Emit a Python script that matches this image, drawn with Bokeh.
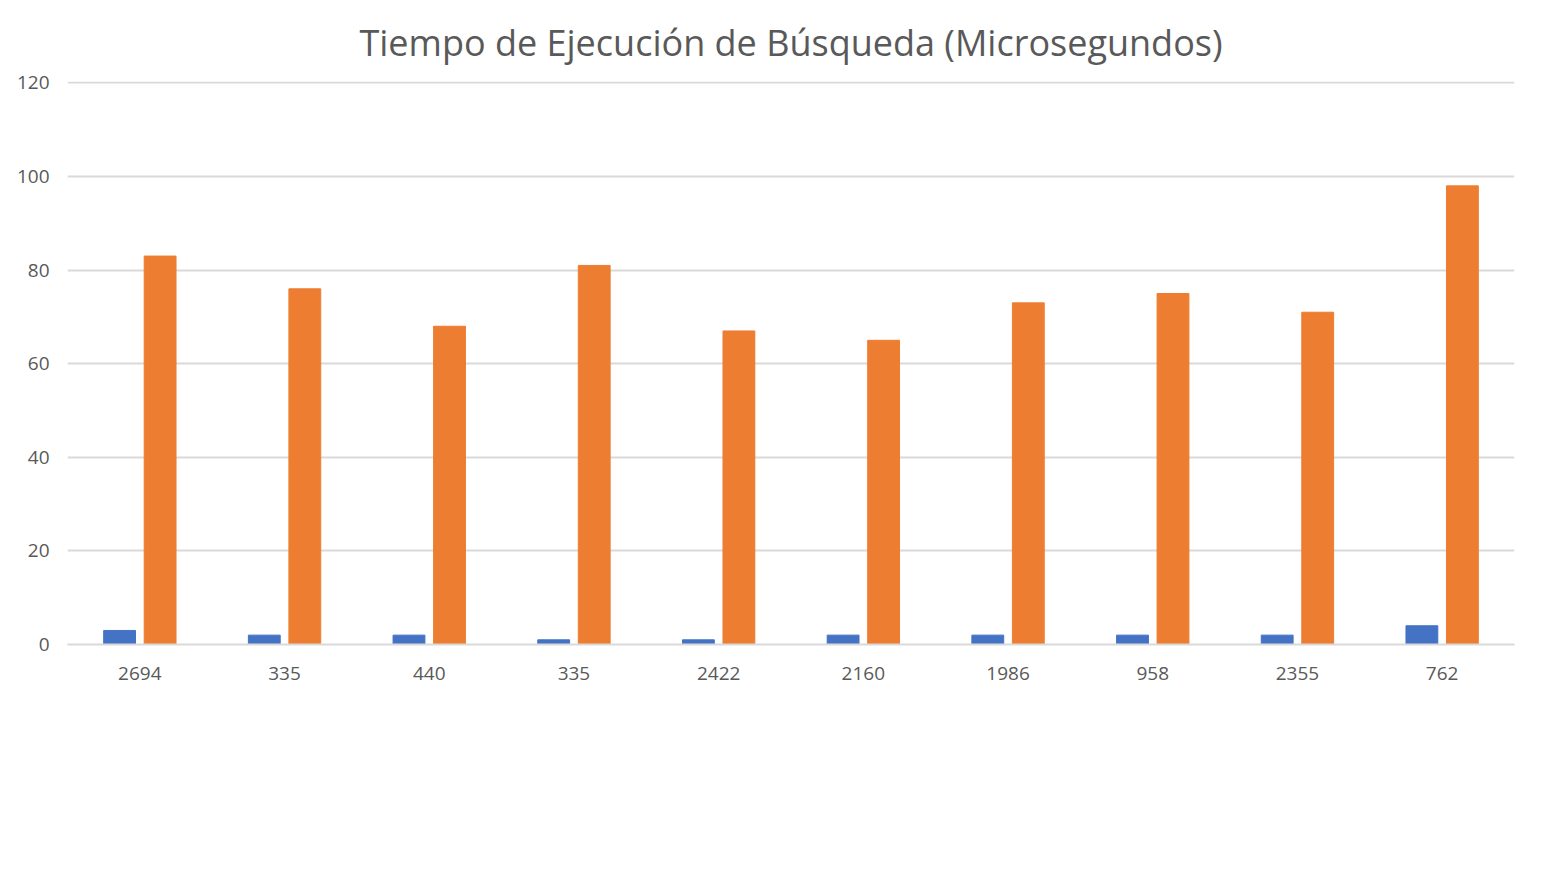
from bokeh.plotting import figure
from bokeh.models import Range1d, FixedTicker, Legend, LegendItem
from bokeh.embed import file_html
from bokeh.resources import INLINE

labels = ["2694", "335", "440", "335", "2422", "2160", "1986", "958", "2355", "762"]
avl = [3, 2, 2, 1, 1, 2, 2, 2, 2, 4]
b = [83, 76, 68, 81, 67, 65, 73, 75, 71, 98]

xs = [i + 0.5 for i in range(len(labels))]

p = figure(
    frame_width=1447, frame_height=563,
    x_range=Range1d(0, len(labels)), y_range=Range1d(0, 120.3),
    output_backend="svg", toolbar_location=None,
    min_border_left=67, min_border_right=20, min_border_top=32, min_border_bottom=0,
    outline_line_color=None, border_fill_color="white",
)
p.title.text = "Tiempo de Ejecución de Búsqueda (Microsegundos)"
p.title.align = "center"
p.title.text_font = "Open Sans"
p.title.text_font_size = "36px"
p.title.text_font_style = "normal"
p.title.text_color = "#595959"
p.title.standoff = 30

r1 = p.vbar(x=[x - 0.14 for x in xs], top=avl, width=0.22, color="#4472c4")
r2 = p.vbar(x=[x + 0.14 for x in xs], top=b, width=0.22, color="#ed7d31")

p.xaxis.ticker = FixedTicker(ticks=xs)
p.xaxis.major_label_overrides = {x: l for x, l in zip(xs, labels)}
p.yaxis.ticker = FixedTicker(ticks=[0, 20, 40, 60, 80, 100, 120])
for ax in (p.xaxis, p.yaxis):
    ax.major_tick_line_color = None
    ax.minor_tick_line_color = None
    ax.major_label_text_font = "Open Sans"
    ax.major_label_text_font_size = "19px"
    ax.major_label_text_color = "#595959"
p.xaxis.axis_line_color = "#d9d9d9"
p.xaxis.axis_line_width = 2
p.xaxis.major_label_standoff = 16
p.yaxis.axis_line_color = None
p.yaxis.major_label_standoff = 12
p.xgrid.grid_line_color = None
p.ygrid.grid_line_color = "#d9d9d9"
p.ygrid.grid_line_width = 2

legend = Legend(items=[LegendItem(label="AVL", renderers=[r1]), LegendItem(label="B", renderers=[r2])],
                orientation="horizontal", location="center", border_line_color=None,
                label_text_font="Open Sans", label_text_font_size="19px", label_text_color="#595959",
                glyph_width=12, glyph_height=12, spacing=14, label_standoff=4, margin=10, padding=4)
p.add_layout(legend, "below")

open("out.html", "w").write(file_html(p, INLINE))
